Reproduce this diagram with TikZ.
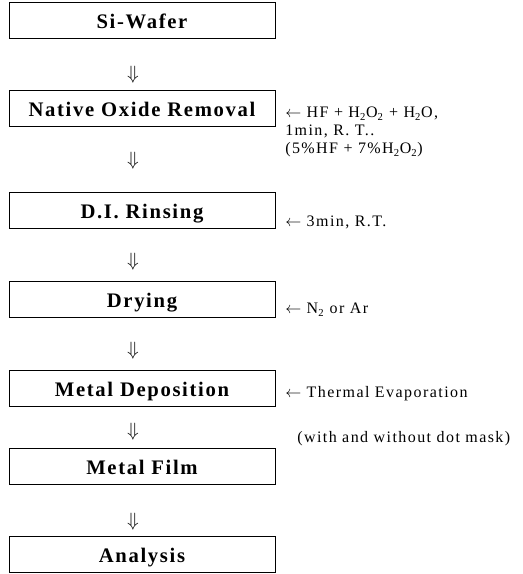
\documentclass[tikz,border=0pt]{standalone}
\usepackage{fontspec}
\setmainfont{Liberation Serif}
\usetikzlibrary{positioning,calc}

\begin{document}
\begin{tikzpicture}[x=0.75pt, y=-0.75pt,
  stage/.style={draw, line width=0.6pt, minimum width=199.5pt, minimum height=27pt, inner sep=0pt, outer sep=0pt,
    text height=15pt, text depth=1.8pt,
    font=\fontsize{15.5}{18}\bfseries\addfontfeature{LetterSpace=8}},
  flow/.style={inner sep=0pt, xshift=-6.75pt, font=\Large},
  note/.style={inner sep=0pt, align=left,
    font=\fontsize{12}{13.5}\selectfont\addfontfeature{LetterSpace=9}}]
  \useasboundingbox (0,0) rectangle (523,574);
  % process steps
  \node[stage] (wafer) at (142,20) {Si-Wafer};
  \node[stage, below=39pt of wafer] (oxide) {Native Oxide Removal};
  \node[stage, below=49.5pt of oxide] (rinse) {D.I. Rinsing};
  \node[stage, below=39.75pt of rinse] (dry) {Drying};
  \node[stage, below=39.75pt of dry] (depo) {Metal Deposition};
  \node[stage, below=31.5pt of depo] (film) {Metal Film};
  \node[stage, below=39pt of film] (analysis) {Analysis};
  % arrows between steps
  \node[flow] (a1) at ($(wafer.south)!0.71!(oxide.north)$) {$\Downarrow$};
  \node[flow] (a2) at ($(oxide.south)!0.52!(rinse.north)$) {$\Downarrow$};
  \node[flow] (a3) at ($(rinse.south)!0.64!(dry.north)$) {$\Downarrow$};
  \node[flow] (a4) at ($(dry.south)!0.64!(depo.north)$) {$\Downarrow$};
  \node[flow] (a5) at ($(depo.south)!0.62!(film.north)$) {$\Downarrow$};
  \node[flow] (a6) at ($(film.south)!0.72!(analysis.north)$) {$\Downarrow$};
  % conditions
  \node[note, anchor=north west] (oxnote) at ([xshift=7.5pt,yshift=0.75pt]oxide.east)
    {$\leftarrow$ HF + H\textsubscript{2}O\textsubscript{2} + H\textsubscript{2}O,\\
     1min, R. T..\\
     (5\%HF + 7\%H\textsubscript{2}O\textsubscript{2})};
  \node[note, anchor=base west] (rinsenote) at ([xshift=7.5pt,yshift=-12pt]rinse.east) {$\leftarrow$ 3min, R.T.};
  \node[note, anchor=base west] (drynote) at ([xshift=7.5pt,yshift=-11pt]dry.east) {$\leftarrow$ N\textsubscript{2} or Ar};
  \node[note, anchor=base west] (deponote) at ([xshift=7.5pt,yshift=-6.75pt]depo.east) {$\leftarrow$ Thermal Evaporation};
  \node[note, anchor=base west] (masknote) at ([xshift=9pt,yshift=-33.75pt]deponote.base west) {(with and without dot mask)};
\end{tikzpicture}
\end{document}
